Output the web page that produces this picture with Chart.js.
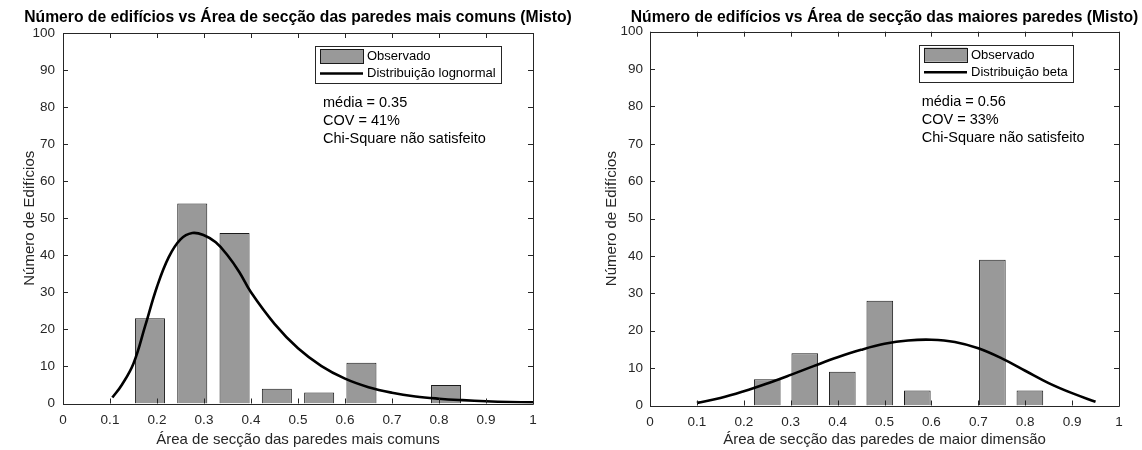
<!DOCTYPE html>
<html>
<head>
<meta charset="utf-8">
<script src="https://cdn.jsdelivr.net/npm/chart.js@4.4.1/dist/chart.umd.min.js"></script>
<style>
  body { margin: 0; background: #fff; width: 1142px; height: 450px; position: relative; overflow: hidden; }
  canvas { position: absolute; top: 0; }
</style>
</head>
<body>
<canvas id="left" width="582" height="450" style="left:0px"></canvas>
<canvas id="right" width="554" height="450" style="left:588px"></canvas>
<script>
// left: paredes mais comuns
const binsComuns = [0.185, 0.275, 0.365, 0.455, 0.545, 0.635, 0.725, 0.815];
const countsComuns = [23, 54, 46, 4, 3, 11, 0, 5];
const lognormalX = [0.105, 0.125, 0.15, 0.175, 0.2, 0.225, 0.25, 0.275, 0.3, 0.325, 0.35, 0.375, 0.4,
  0.45, 0.5, 0.55, 0.6, 0.65, 0.7, 0.75, 0.8, 0.85, 0.9, 0.95, 1.0];
const lognormalY = [1.6, 5.0, 10.8, 21.0, 31.5, 39.5, 44.3, 46.0, 45.4, 43.5, 40.0, 35.5, 30.0,
  21.5, 14.9, 10.1, 6.7, 4.4, 2.9, 1.9, 1.3, 0.9, 0.6, 0.4, 0.3];
const statsComuns = ['média = 0.35', 'COV = 41%', 'Chi-Square não satisfeito'];

// right: maiores paredes
const binsMaiores = [0.25, 0.33, 0.41, 0.49, 0.57, 0.65, 0.73, 0.81];
const countsMaiores = [7, 14, 9, 28, 4, 0, 39, 4];
const betaX = [0.1, 0.15, 0.2, 0.25, 0.3, 0.35, 0.4, 0.45, 0.5, 0.55, 0.6, 0.65, 0.7, 0.75, 0.8, 0.85, 0.9, 0.95];
const betaY = [0.7, 2.0, 3.8, 5.9, 8.2, 10.6, 12.9, 14.9, 16.5, 17.4, 17.6, 17.0, 15.3, 12.6, 9.3, 6.0, 3.3, 1.0];
const statsMaiores = ['média = 0.56', 'COV = 33%', 'Chi-Square não satisfeito'];

const xTicks = [0, 0.1, 0.2, 0.3, 0.4, 0.5, 0.6, 0.7, 0.8, 0.9, 1];
const yTicks = [0, 10, 20, 30, 40, 50, 60, 70, 80, 90, 100];

const FONT = '"Liberation Sans", Arial, Helvetica, sans-serif';
const AXIS_COLOR = '#262626';
Chart.defaults.font.family = FONT;

// box around the axes with inward ticks, like matlab
const boxPlugin = {
  id: 'boxAxes',
  afterDatasetsDraw(chart) {
    const { ctx, chartArea: a, scales: { x, y } } = chart;
    ctx.save();
    ctx.strokeStyle = AXIS_COLOR;
    ctx.lineWidth = 1;
    ctx.beginPath();
    ctx.rect(Math.round(a.left) + 0.5, Math.round(a.top) + 0.5,
      Math.round(a.right) - Math.round(a.left), Math.round(a.bottom) - Math.round(a.top));
    x.ticks.forEach(t => {
      const px = Math.round(x.getPixelForValue(t.value)) + 0.5;
      ctx.moveTo(px, a.bottom); ctx.lineTo(px, a.bottom - 5);
      ctx.moveTo(px, a.top); ctx.lineTo(px, a.top + 5);
    });
    y.ticks.forEach(t => {
      const py = Math.round(y.getPixelForValue(t.value)) + 0.5;
      ctx.moveTo(a.left, py); ctx.lineTo(a.left + 5, py);
      ctx.moveTo(a.right, py); ctx.lineTo(a.right - 5, py);
    });
    ctx.stroke();
    ctx.restore();
  }
};

// title over the axes, boxed legend + text notes inside the plot
const notesPlugin = {
  id: 'notes',
  afterDraw(chart, args, o) {
    const { ctx, chartArea: a } = chart;
    const ds = chart.data.datasets;
    ctx.save();
    ctx.textBaseline = 'middle';
    ctx.fillStyle = '#000';
    ctx.font = 'bold 15.7px ' + FONT;
    ctx.textAlign = 'center';
    ctx.fillText(o.title, (a.left + a.right) / 2, 18);
    ctx.textAlign = 'left';

    ctx.font = '13px ' + FONT;
    const bx = a.left + o.legendX, by = a.top + o.legendY;
    const tw = Math.max(...ds.map(d => ctx.measureText(d.label).width));
    const w = 5 + 43 + 4 + tw + 5, h = 37;
    ctx.fillStyle = '#fff';
    ctx.fillRect(bx, by, w, h);
    ctx.strokeStyle = AXIS_COLOR;
    ctx.lineWidth = 1;
    ctx.strokeRect(Math.round(bx) + 0.5, Math.round(by) + 0.5, Math.round(w), h);
    // bar entry
    ctx.fillStyle = ds[0].backgroundColor;
    ctx.fillRect(bx + 5, by + 3, 43, 14);
    ctx.strokeStyle = ds[0].borderColor;
    ctx.strokeRect(Math.round(bx + 5) + 0.5, Math.round(by + 3) + 0.5, 43, 14);
    // line entry
    ctx.strokeStyle = ds[1].borderColor;
    ctx.lineWidth = ds[1].borderWidth;
    ctx.beginPath();
    ctx.moveTo(bx + 5, by + 27.5); ctx.lineTo(bx + 48, by + 27.5);
    ctx.stroke();
    ctx.fillStyle = '#000';
    ctx.fillText(ds[0].label, bx + 52, by + 10.5);
    ctx.fillText(ds[1].label, bx + 52, by + 27.5);
    // stats
    ctx.font = '14.5px ' + FONT;
    o.lines.forEach((s, i) => ctx.fillText(s, a.left + o.textX, a.top + o.textY + i * 18));
    ctx.restore();
  }
};

function makeChart(id, cfg) {
  const barData = cfg.bins.map((b, i) => ({ x: b, y: cfg.counts[i] }));
  const lineData = cfg.curveX.map((v, i) => ({ x: v, y: cfg.curveY[i] }));
  return new Chart(document.getElementById(id), {
    type: 'bar',
    data: {
      datasets: [
        {
          type: 'bar', label: 'Observado', data: barData, order: 1,
          backgroundColor: '#999999', borderColor: '#1a1a1a', borderWidth: 1,
          barPercentage: 0.71, categoryPercentage: 1
        },
        {
          type: 'line', label: cfg.curveLabel, data: lineData, order: 0,
          borderColor: '#000', borderWidth: 2.6, pointRadius: 0,
          tension: 0.4, fill: false
        }
      ]
    },
    options: {
      responsive: false,
      animation: false,
      devicePixelRatio: 1,
      layout: { padding: { left: 0, right: cfg.padRight, top: cfg.top, bottom: 0 } },
      scales: {
        x: {
          type: 'linear', min: 0, max: 1, offset: false,
          grid: { display: false, drawTicks: false },
          border: { display: false },
          afterBuildTicks: s => { s.ticks = xTicks.map(v => ({ value: v })); },
          ticks: {
            autoSkip: false, maxRotation: 0, padding: 9, color: AXIS_COLOR,
            font: { size: 13.5 },
            callback: v => String(Math.round(v * 10) / 10)
          },
          title: {
            display: true, text: cfg.xTitle, color: AXIS_COLOR,
            font: { size: 15 }, padding: { top: 0, bottom: 1 }
          },
          afterFit: s => { s.height = cfg.xHeight; }
        },
        y: {
          min: 0, max: 100,
          grid: { display: false, drawTicks: false },
          border: { display: false },
          afterBuildTicks: s => { s.ticks = yTicks.map(v => ({ value: v })); },
          ticks: { padding: cfg.yTickPad, color: AXIS_COLOR, font: { size: 13.5 } },
          title: {
            display: true, text: 'Número de Edifícios', color: AXIS_COLOR,
            font: { size: 15 }, padding: { top: cfg.yTitlePad, bottom: 0 }
          },
          afterFit: s => { s.width = cfg.yWidth; }
        }
      },
      plugins: {
        legend: { display: false },
        tooltip: { enabled: false },
        title: { display: false },
        notes: {
          title: cfg.title, legendX: cfg.legendX, legendY: 13,
          textX: cfg.textX, textY: 70, lines: cfg.stats
        }
      }
    },
    plugins: [boxPlugin, notesPlugin]
  });
}

makeChart('left', {
  bins: binsComuns, counts: countsComuns, curveX: lognormalX, curveY: lognormalY,
  curveLabel: 'Distribuição lognormal', stats: statsComuns,
  title: 'Número de edifícios vs Área de secção das paredes mais comuns (Misto)',
  xTitle: 'Área de secção das paredes mais comuns',
  padRight: 49, top: 33, xHeight: 46.5, yWidth: 63, yTickPad: 8, yTitlePad: 21,
  legendX: 252, textX: 260
});

makeChart('right', {
  bins: binsMaiores, counts: countsMaiores, curveX: betaX, curveY: betaY,
  curveLabel: 'Distribuição beta', stats: statsMaiores,
  title: 'Número de edifícios vs Área de secção das maiores paredes (Misto)',
  xTitle: 'Área de secção das paredes de maior dimensão',
  padRight: 23, top: 31.7, xHeight: 44.5, yWidth: 62, yTickPad: 7, yTitlePad: 14.7,
  legendX: 269, textX: 271.7
});
</script>
</body>
</html>
